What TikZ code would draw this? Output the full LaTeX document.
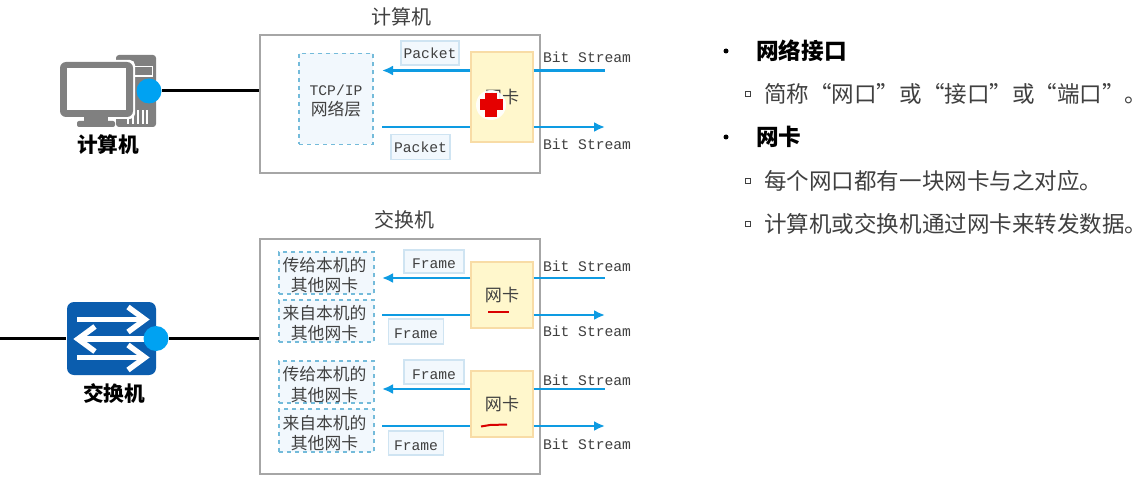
\documentclass[tikz,border=0pt]{standalone}
\usepackage{fontspec}
\usetikzlibrary{arrows.meta}
\setmainfont{Noto Sans CJK SC}
\newfontfamily\latinmono{Liberation Mono}
\newcommand\px[1]{#1*0.75pt}
\definecolor{flowblue}{HTML}{0E9BE2}
\definecolor{portblue}{HTML}{00A2F2}
\definecolor{switchblue}{HTML}{0B5DAE}
\definecolor{icongray}{HTML}{808080}
\definecolor{inktext}{HTML}{404040}
\definecolor{dashblue}{HTML}{74BBDA}
\definecolor{paleblue}{HTML}{F2F8FD}
\definecolor{tagedge}{HTML}{CFE4F2}
\definecolor{cardfill}{HTML}{FFF7CC}
\definecolor{cardedge}{HTML}{F8DCA6}
\tikzset{
  x=0.75pt, y=-0.75pt,
  outerbox/.style={draw=black!35, line width=\px{1.5}, fill=white, inner sep=0pt},
  stackbox/.style={draw=dashblue, dashed, line width=\px{1.2}, fill=paleblue, inner sep=0pt},
  stacktext/.style={inner sep=0pt, align=center, text=inktext, font=\fontsize{12.6}{15.6}\selectfont},
  tagbox/.style={draw=tagedge, line width=\px{1.2}, fill=paleblue, inner sep=0pt, text=inktext, font=\latinmono\fontsize{11}{13}\selectfont},
  frametag/.style={tagbox, text height=\px{14}, text depth=0pt},
  nicbox/.style={draw=cardedge, line width=\px{1.2}, fill=cardfill, inner sep=0pt, text=inktext, font=\fontsize{12.8}{16}\selectfont},
  bitlabel/.style={inner sep=0pt, text=inktext, font=\latinmono\fontsize{11}{13}\selectfont},
  title/.style={inner sep=0pt, text=inktext, font=\fontsize{15}{18}\selectfont},
  devlabel/.style={inner sep=0pt, text=black, font=\fontsize{15.5}{18}\selectfont\bfseries},
  flow/.style={draw=flowblue, line width=\px{2.5}},
  flowtip/.style={flow, -{Latex[length=\px{11}, width=\px{10}]}},
  link/.style={draw=black, line width=\px{3}},
  port/.style={circle, fill=portblue, inner sep=0pt, minimum size=\px{25}},
  head/.style={inner sep=0pt, anchor=west, text=black, font=\fontsize{17}{19}\selectfont\bfseries},
  sub/.style={inner sep=0pt, anchor=west, text=inktext, font=\fontsize{16.9}{19}\selectfont},
  bullet/.style={circle, fill=black, inner sep=0pt, minimum size=\px{5}},
  subbullet/.style={draw=inktext, line width=\px{0.8}, inner sep=0pt, minimum size=\px{4.5}},
  marker/.style={draw=red!85!black, line width=\px{2}},
  whitearrow/.style={draw=white, line width=\px{5.5}},
}
\begin{document}
\begin{tikzpicture}
\useasboundingbox (0,0) rectangle (1148,481);
\fill[white] (0,0) rectangle (1148,481);

% Computer icon
\fill[icongray, rounded corners=\px{3}] (116,55) rectangle (156,127);
\fill[white] (133,66) rectangle (153,77);
\fill[icongray] (134.5,67.5) rectangle (151.5,75.5);
\foreach \vx in {128,133,138,143,147} \draw[white, line width=\px{1.5}] (\vx,110) -- (\vx,124);
\fill[white, rounded corners=\px{5}] (58,60) rectangle (135,119);
\fill[icongray, rounded corners=\px{6}] (60,62) rectangle (133,117);
\fill[white] (67,68) rectangle (126,110);
\fill[icongray] (84,117) rectangle (108,121);
\fill[icongray, rounded corners=\px{2}] (77,121) rectangle (115,127);

\node[port] (pcport) at (149,91) {};
\node[devlabel] (pclabel) at (108,145) {计算机};

% Computer internals
\node[outerbox, minimum width=\px{280}, minimum height=\px{138}] (pcbox) at (400,104) {};
\node[title] (pctitle) at (401,17) {计算机};
\draw[link] (pcport.east) -- (pcbox.west |- pcport.east);

\node[stackbox, minimum width=\px{74}, minimum height=\px{91}] (tcp) at (336,99) {};
\node[stacktext] (tcptext) at ([yshift=-1.5pt]tcp.center) {{\latinmono\fontsize{11}{13}\selectfont TCP/IP}\\网络层};
\node[tagbox, minimum width=\px{58}, minimum height=\px{24}] (pkt1) at (430,53) {Packet};
\node[tagbox, minimum width=\px{59}, minimum height=\px{25}] (pkt2) at (420.5,147) {Packet};
\node[nicbox, minimum width=\px{62}, minimum height=\px{90}] (nic0) at (502,97) {网卡};
% Cursor-style cross over the card label
\fill[white, opacity=0.9] (491,105) circle[radius=15];
\fill[red!90!black] (485,93) rectangle (497,117);
\fill[red!90!black] (479.5,99) rectangle (503,110);

\coordinate (a0l) at (382,70.5);
\coordinate (a0r) at (605,70.5);
\coordinate (b0l) at (382,127);
\coordinate (b0r) at (605,127);
\draw[flowtip] (nic0.west |- a0l) -- (a0l);
\draw[flow] (nic0.east |- a0r) -- (a0r);
\draw[flow] (b0l) -- (nic0.west |- b0l);
\draw[flowtip] (nic0.east |- b0r) -- (b0r);
\node[bitlabel] (bs1) at (587,57) {Bit Stream};
\node[bitlabel] (bs2) at (587,144) {Bit Stream};

% Switch icon
\fill[switchblue, rounded corners=\px{7}] (67,302) rectangle (156,375);
\foreach \ay in {319.5,357.5} {
  \draw[whitearrow] (77,\ay) -- (142,\ay);
  \draw[whitearrow, line join=miter] (128,\ay-12.5) -- (145,\ay) -- (128,\ay+12.5);
}
\draw[whitearrow] (150,339) -- (81,339);
\draw[whitearrow, line join=miter] (95,326.5) -- (78,339) -- (95,351.5);
\node[port] (swport) at (156,338.5) {};
\node[devlabel] (swlabel) at (114,394) {交换机};

% Switch internals
\node[outerbox, minimum width=\px{280}, minimum height=\px{235}] (swbox) at (400,356.5) {};
\node[title] (swtitle) at (404,220) {交换机};
\coordinate (swleft) at (0,338.5);
\coordinate (swedge) at (66,338.5);
\draw[link] (swleft) -- (swedge);
\draw[link] (swport.east) -- (swbox.west |- swport.east);

\node[stackbox, minimum width=\px{95}, minimum height=\px{42}] (to1) at (326.5,273) {};
\node[stackbox, minimum width=\px{95}, minimum height=\px{42}] (from1) at (326.5,321) {};
\node[stackbox, minimum width=\px{95}, minimum height=\px{42}] (to2) at (326.5,382) {};
\node[stackbox, minimum width=\px{95}, minimum height=\px{43}] (from2) at (326.5,430.5) {};
\node[stacktext] (to1text) at ([xshift=-1.5pt,yshift=-1.6pt]to1.center) {传给本机的\\其他网卡};
\node[stacktext] (from1text) at ([xshift=-1.5pt,yshift=-1.6pt]from1.center) {来自本机的\\其他网卡};
\node[stacktext] (to2text) at ([xshift=-1.5pt,yshift=-1.9pt]to2.center) {传给本机的\\其他网卡};
\node[stacktext] (from2text) at ([xshift=-1.5pt,yshift=-1.9pt]from2.center) {来自本机的\\其他网卡};

\node[frametag, minimum width=\px{60}, minimum height=\px{23}] (fr1) at (434,261.5) {Frame};
\node[frametag, minimum width=\px{55}, minimum height=\px{25}] (fr2) at (416,331.5) {Frame};
\node[frametag, minimum width=\px{60}, minimum height=\px{24}] (fr3) at (434,372) {Frame};
\node[frametag, minimum width=\px{55}, minimum height=\px{24}] (fr4) at (416,443) {Frame};

\node[nicbox, minimum width=\px{62}, minimum height=\px{66}] (nic1) at (502,295) {网卡};
\node[nicbox, minimum width=\px{62}, minimum height=\px{66}] (nic2) at (502,404) {网卡};
\draw[marker] (488,312) -- (509,312);
\draw[marker] (481,426.5) -- (490,425) -- (507,424.5);

\coordinate (a1l) at (382,278);
\coordinate (a1r) at (605,278);
\coordinate (b1l) at (382,315);
\coordinate (b1r) at (605,315);
\coordinate (a2l) at (382,389);
\coordinate (a2r) at (605,389);
\coordinate (b2l) at (382,426);
\coordinate (b2r) at (605,426);
\draw[flowtip] (nic1.west |- a1l) -- (a1l);
\draw[flow] (nic1.east |- a1r) -- (a1r);
\draw[flow] (b1l) -- (nic1.west |- b1l);
\draw[flowtip] (nic1.east |- b1r) -- (b1r);
\draw[flowtip] (nic2.west |- a2l) -- (a2l);
\draw[flow] (nic2.east |- a2r) -- (a2r);
\draw[flow] (b2l) -- (nic2.west |- b2l);
\draw[flowtip] (nic2.east |- b2r) -- (b2r);
\node[bitlabel] (bs3) at (587,266) {Bit Stream};
\node[bitlabel] (bs4) at (587,331) {Bit Stream};
\node[bitlabel] (bs5) at (587,380) {Bit Stream};
\node[bitlabel] (bs6) at (587,444) {Bit Stream};

% Notes on the right
\node[bullet] (d1) at (726,51) {};
\node[head] (h1) at (756,51) {网络接口};
\node[subbullet] (s1) at (748,94) {};
\node[sub] (t1) at (764,94) {简称“网口”或“接口”或“端口”。};
\node[bullet] (d2) at (726,137) {};
\node[head] (h2) at (756,137) {网卡};
\node[subbullet] (s2) at (748,181) {};
\node[sub] (t2) at (764,181) {每个网口都有一块网卡与之对应。};
\node[subbullet] (s3) at (748,224) {};
\node[sub] (t3) at (764,224) {计算机或交换机通过网卡来转发数据。};
\end{tikzpicture}
\end{document}
